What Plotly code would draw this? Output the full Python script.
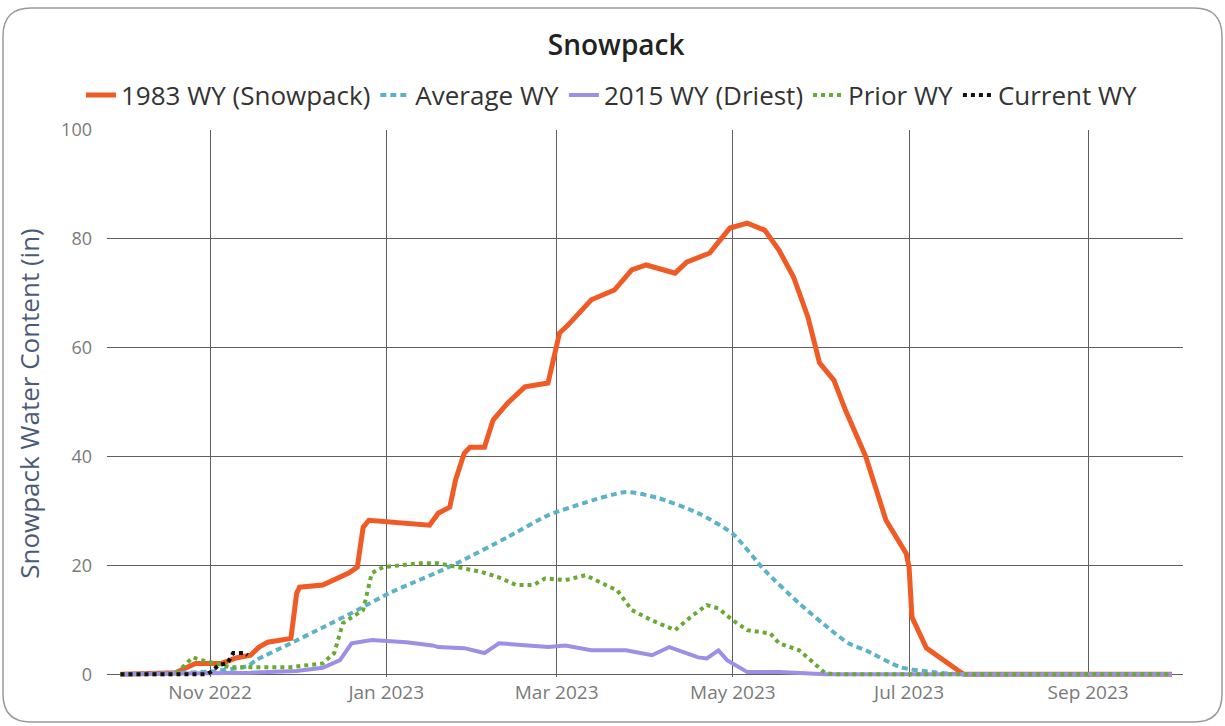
import plotly.graph_objects as go

# ---------------- data ----------------
wy1983_dates = ["2022-10-01", "2022-10-20", "2022-10-27", "2022-11-05", "2022-11-10", "2022-11-15",
                "2022-11-18", "2022-11-21", "2022-11-29", "2022-12-01", "2022-12-02", "2022-12-10",
                "2022-12-19", "2022-12-22", "2022-12-24", "2022-12-26", "2023-01-16", "2023-01-19",
                "2023-01-23", "2023-01-25", "2023-01-28", "2023-01-30", "2023-02-04", "2023-02-07",
                "2023-02-12", "2023-02-18", "2023-02-26", "2023-03-02", "2023-03-05", "2023-03-13",
                "2023-03-21", "2023-03-27", "2023-04-01", "2023-04-07", "2023-04-11", "2023-04-15",
                "2023-04-23", "2023-04-26", "2023-04-30", "2023-05-06", "2023-05-12", "2023-05-17",
                "2023-05-22", "2023-05-27", "2023-05-31", "2023-06-05", "2023-06-09", "2023-06-16",
                "2023-06-23", "2023-06-30", "2023-07-01", "2023-07-02", "2023-07-07", "2023-07-18",
                "2023-07-20", "2023-09-30"]
wy1983_vals = [0, 0.3, 2.0, 2.0, 3.0, 3.5,
               5.0, 5.9, 6.6, 14.9, 16.0, 16.4,
               18.6, 19.7, 27.0, 28.3, 27.4, 29.6,
               30.7, 35.7, 40.6, 41.7, 41.7, 46.7,
               49.8, 52.8, 53.5, 62.7, 64.2, 68.8,
               70.6, 74.3, 75.2, 74.3, 73.7, 75.7,
               77.4, 79.4, 82.0, 82.9, 81.6, 77.9,
               73.0, 65.6, 57.2, 54.0, 48.5, 40.0,
               28.3, 22.2, 19.7, 10.5, 4.8, 0.7,
               0, 0]

avg_dates = ["2022-10-01", "2022-10-15", "2022-11-01", "2022-11-14", "2022-11-17", "2022-11-29",
             "2022-12-10", "2022-12-22", "2023-01-02", "2023-01-11", "2023-01-19", "2023-01-27",
             "2023-02-12", "2023-02-26", "2023-03-10", "2023-03-25", "2023-04-05", "2023-04-19",
             "2023-05-01", "2023-05-12", "2023-05-24", "2023-06-04", "2023-06-10", "2023-06-16",
             "2023-06-28", "2023-07-09", "2023-07-19", "2023-09-30"]
avg_vals = [0, 0.2, 0.5, 1.5, 2.6, 5.7,
            8.6, 11.8, 14.9, 17.0, 18.8, 20.8,
            25.2, 29.2, 31.4, 33.5, 32.4, 29.6,
            25.8, 19.1, 13.0, 8.1, 5.7, 4.4,
            1.3, 0.4, 0, 0]

wy2015_dates = ["2022-10-01", "2022-11-15", "2022-12-01", "2022-12-10", "2022-12-16", "2022-12-20",
                "2022-12-27", "2023-01-05", "2023-01-08", "2023-01-17", "2023-01-19", "2023-01-28",
                "2023-02-04", "2023-02-09", "2023-02-26", "2023-03-04", "2023-03-13", "2023-03-25",
                "2023-04-03", "2023-04-09", "2023-04-19", "2023-04-22", "2023-04-26", "2023-04-29",
                "2023-05-06", "2023-05-17", "2023-06-02", "2023-09-30"]
wy2015_vals = [0, 0.3, 0.6, 1.2, 2.6, 5.7,
               6.3, 6.1, 5.9, 5.3, 5.0, 4.8,
               3.9, 5.7, 5.0, 5.3, 4.4, 4.4,
               3.5, 5.0, 3.1, 2.9, 4.4, 2.6,
               0.4, 0.4, 0, 0]

prior_dates = ["2022-10-01", "2022-10-20", "2022-10-26", "2022-10-29", "2022-11-03", "2022-11-08",
               "2022-11-29", "2022-12-10", "2022-12-14", "2022-12-17", "2022-12-24", "2022-12-27",
               "2022-12-31", "2023-01-13", "2023-01-19", "2023-01-23", "2023-02-03", "2023-02-09",
               "2023-02-15", "2023-02-21", "2023-02-25", "2023-03-04", "2023-03-11", "2023-03-18",
               "2023-03-22", "2023-03-27", "2023-04-03", "2023-04-11", "2023-04-17", "2023-04-22",
               "2023-04-26", "2023-05-01", "2023-05-06", "2023-05-14", "2023-05-17", "2023-05-24",
               "2023-05-29", "2023-06-02", "2023-06-05", "2023-09-30"]
prior_vals = [0, 0, 3.1, 2.6, 2.0, 1.3,
              1.3, 2.0, 3.9, 9.4, 11.8, 18.6,
              19.7, 20.4, 20.4, 20.0, 18.8, 17.8,
              16.4, 16.4, 17.6, 17.3, 18.2, 16.4,
              15.4, 11.8, 9.9, 8.1, 10.8, 12.7,
              12.1, 9.9, 8.1, 7.5, 5.7, 4.4,
              2.0, 0.2, 0, 0]

current_dates = ["2022-10-01", "2022-10-31", "2022-11-02", "2022-11-04", "2022-11-07", "2022-11-09",
                 "2022-11-13", "2022-11-14"]
current_vals = [0, 0, 0.7, 1.7, 2.0, 3.9, 3.9, 3.5]

series_names = ["1983 WY (Snowpack)", "Average WY", "2015 WY (Driest)", "Prior WY", "Current WY"]
y_ticks = [0, 20, 40, 60, 80, 100]

# ---------------- figure ----------------
W, H = 1225, 726
ML, MR, MT, MB = 107, 42, 130, 49

fig = go.Figure()
fig.add_trace(go.Scatter(x=wy1983_dates, y=wy1983_vals, name=series_names[0], mode="lines",
                         line=dict(color="#f05a24", width=5)))
fig.add_trace(go.Scatter(x=avg_dates, y=avg_vals, name=series_names[1], mode="lines",
                         line=dict(color="#5db3c4", width=4, dash="6px,4px", shape="spline", smoothing=0.6)))
fig.add_trace(go.Scatter(x=wy2015_dates, y=wy2015_vals, name=series_names[2], mode="lines",
                         line=dict(color="#9d8ee6", width=4)))
fig.add_trace(go.Scatter(x=prior_dates, y=prior_vals, name=series_names[3], mode="lines",
                         line=dict(color="#6aaa34", width=4, dash="dot")))
fig.add_trace(go.Scatter(x=current_dates, y=current_vals, name=series_names[4], mode="lines",
                         line=dict(color="#111111", width=4, dash="dot")))

# rounded card border (decoration)
pw, ph = W - ML - MR, H - MT - MB
def px(x):
    return (x - ML) / pw
def py(y):
    return (H - MB - y) / ph
x0, x1, y0, y1 = px(3), px(1222), py(722), py(8)
rx, ry = 28 / pw, 28 / ph
path = (f"M {x0+rx},{y1} L {x1-rx},{y1} Q {x1},{y1} {x1},{y1-ry} "
        f"L {x1},{y0+ry} Q {x1},{y0} {x1-rx},{y0} L {x0+rx},{y0} "
        f"Q {x0},{y0} {x0},{y0+ry} L {x0},{y1-ry} Q {x0},{y1} {x0+rx},{y1} Z")
fig.add_shape(type="path", path=path, xref="paper", yref="paper",
              line=dict(color="#9a9a9a", width=1.5), layer="below")

grid = "#5f5f5f"
fig.update_layout(
    width=W, height=H,
    margin=dict(l=ML, r=MR, t=MT, b=MB, autoexpand=False),
    paper_bgcolor="white", plot_bgcolor="white",
    font=dict(family="Open Sans, Noto Sans, sans-serif", color="#333333"),
    title=dict(text="Snowpack", x=0.503, xanchor="center", y=1 - 45 / H, yanchor="middle",
               font=dict(size=28, color="#222222", weight=600)),
    legend=dict(orientation="h", x=px(612), xanchor="center",
                y=1 + 35 / ph, yanchor="middle",
                font=dict(size=26, color="#333333"), itemwidth=30, tracegroupgap=0,
                bgcolor="rgba(0,0,0,0)"),
    showlegend=True,
)
fig.update_xaxes(
    type="date", range=["2022-09-26 08:00", "2023-10-03 20:00"],
    tick0="2022-11-01", dtick="M2", tickformat="%b %Y",
    showgrid=True, gridcolor=grid, gridwidth=1,
    showline=False, zeroline=False, ticks="", ticklabelstandoff=2,
    tickfont=dict(size=19, color="#7a7a7a"),
)
fig.update_yaxes(
    range=[-0.5, 100], tickvals=y_ticks,
    showgrid=True, gridcolor=grid, gridwidth=1,
    zeroline=True, zerolinecolor=grid, zerolinewidth=1,
    showline=False, ticks="", ticklabelstandoff=14,
    tickfont=dict(size=18, color="#7a7a7a"),
    title=dict(text="Snowpack Water Content (in)", font=dict(size=26, color="#4a5a78"), standoff=14),
)

fig.write_html("out.html", config={"displayModeBar": False},
               post_script="document.body.style.margin='0';")
